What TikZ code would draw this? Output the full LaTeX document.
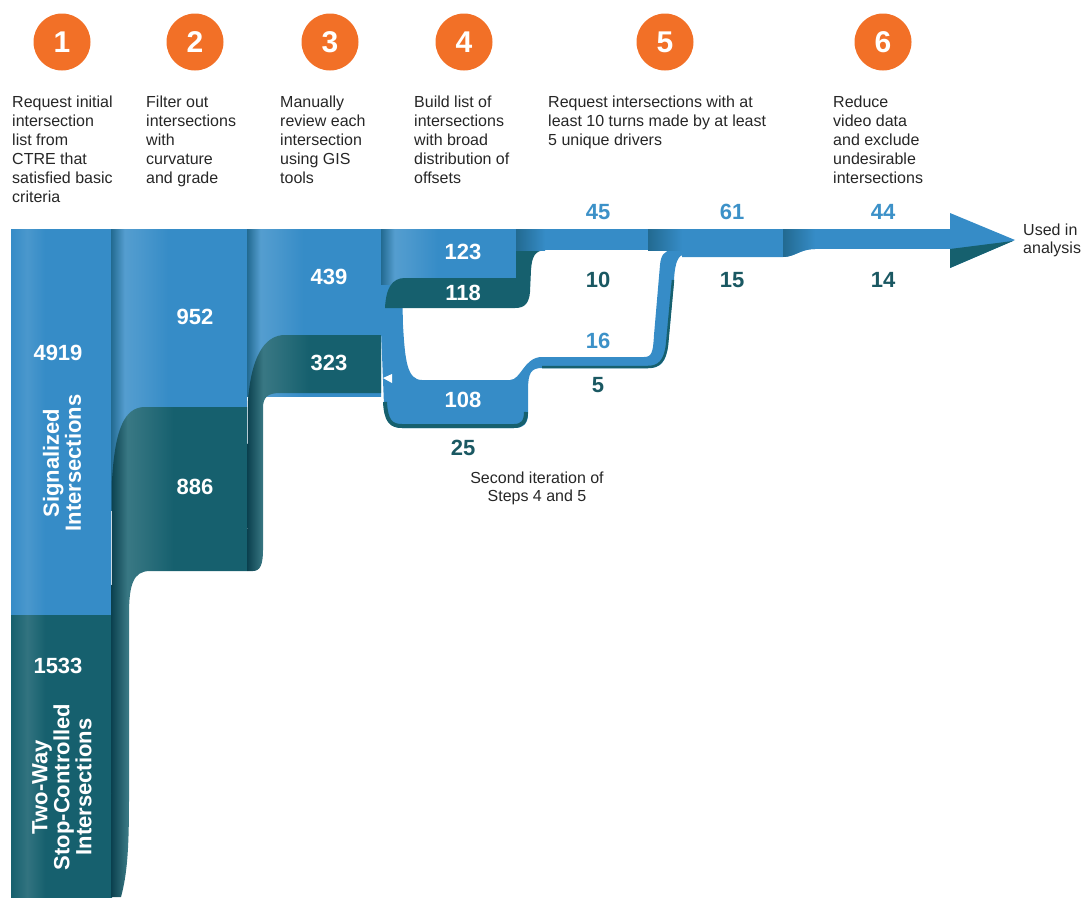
\documentclass[tikz,border=0pt]{standalone}
\usepackage{fontspec}
\setmainfont{Liberation Sans}
\definecolor{flowblue}{RGB}{54,140,199}
\definecolor{flowteal}{RGB}{22,96,110}
\definecolor{flowdark}{RGB}{10,64,78}
\definecolor{steporange}{RGB}{242,112,39}
\definecolor{numblue}{RGB}{60,145,200}
\definecolor{numteal}{RGB}{26,88,98}
\pgfdeclarehorizontalshading{bluecol}{100bp}{color(0bp)=(flowblue!55!flowdark); color(25bp)=(flowblue!55!flowdark); color(30bp)=(flowblue!85!white); color(36bp)=(flowblue!90!white); color(46bp)=(flowblue); color(100bp)=(flowblue)}
\pgfdeclarehorizontalshading{bluefirst}{100bp}{color(0bp)=(flowblue); color(25bp)=(flowblue); color(33bp)=(flowblue!90!white); color(42bp)=(flowblue); color(100bp)=(flowblue)}
\pgfdeclarehorizontalshading{tealcol}{100bp}{color(0bp)=(flowdark); color(25bp)=(flowdark); color(31bp)=(flowteal!85!white); color(37bp)=(flowteal!90!white); color(48bp)=(flowteal); color(100bp)=(flowteal)}
\pgfdeclarehorizontalshading{tealfirst}{100bp}{color(0bp)=(flowteal); color(25bp)=(flowteal); color(33bp)=(flowteal!88!white); color(42bp)=(flowteal); color(100bp)=(flowteal)}
\begin{document}
\begin{tikzpicture}[x=1pt,y=-1pt,
    stepnum/.style={circle, fill=steporange, text=white, minimum size=57pt,
        inner sep=0pt, font=\fontsize{30}{30}\selectfont\bfseries},
    steptext/.style={anchor=north west, align=left, inner sep=0pt,
        text=black!85, font=\fontsize{16}{19}\selectfont},
    inlabel/.style={text=white, font=\fontsize{22}{22}\selectfont\bfseries},
    outblue/.style={text=numblue, font=\fontsize{22}{22}\selectfont\bfseries},
    outteal/.style={text=numteal, font=\fontsize{22}{22}\selectfont\bfseries},
    sidelabel/.style={text=white, rotate=90, align=center, inner sep=0pt,
        font=\fontsize{22}{22}\selectfont\bfseries},
    note/.style={inner sep=0pt, text=black!85, font=\fontsize{16}{18}\selectfont}]
    \useasboundingbox (0,0) rectangle (1086,897);

    % steps
    \node[stepnum] (s1) at (62,42) {1};
    \node[stepnum] (s2) at (195,42) {2};
    \node[stepnum] (s3) at (330,42) {3};
    \node[stepnum] (s4) at (464,42) {4};
    \node[stepnum] (s5) at (665,42) {5};
    \node[stepnum] (s6) at (883,42) {6};
    \node[steptext] (t1) at (12,96) {Request initial\\intersection\\list from\\CTRE that\\satisfied basic\\criteria};
    \node[steptext] (t2) at (146,96) {Filter out\\intersections\\with\\curvature\\and grade};
    \node[steptext] (t3) at (280,96) {Manually\\review each\\intersection\\using GIS\\tools};
    \node[steptext] (t4) at (414,96) {Build list of\\intersections\\with broad\\distribution of\\offsets};
    \node[steptext] (t5) at (548,96) {Request intersections with at\\least 10 turns made by at least\\5 unique drivers};
    \node[steptext] (t6) at (833,96) {Reduce\\video data\\and exclude\\undesirable\\intersections};

    % columns
    \shade[shading=bluefirst] (11,229) rectangle (111,615);
    \shade[shading=tealfirst] (11,615) rectangle (112,897);
    \shade[shading=bluecol] (111,229) rectangle (247,510);
    \shade[shading=tealcol] (247,407) -- (145,407) .. controls (124,407) and (115,430) .. (112,480)
        -- (111,897) -- (121,897) .. controls (127,875) and (129,850) .. (129,800)
        -- (129,615) .. controls (129,585) and (133,571) .. (150,571) -- (247,571) -- cycle;
    \shade[shading=bluecol] (247,229) rectangle (381,396);
    \shade[shading=tealcol] (381,335) -- (285,335) .. controls (268,335) and (252,350) .. (248,400)
        -- (247,571) -- (253,571) .. controls (260,571) and (263,565) .. (263,550)
        -- (263,408) .. controls (263,397) and (268,393) .. (280,393) -- (381,393) -- cycle;
    \shade[shading=bluecol] (381,229) rectangle (516,290);

    % second iteration loop
    \fill[flowblue] (381,285) -- (402,285) -- (403,325) .. controls (405,360) and (407,380) .. (422,380)
        -- (510,380) .. controls (521,380) and (524,357) .. (542,357) -- (644,357)
        .. controls (652,357) and (653,352) .. (654,335) -- (660,265)
        .. controls (661,255) and (664,251) .. (672,250) -- (684,250) -- (684,254)
        .. controls (678,256) and (675,262) .. (674,280) -- (668,345)
        .. controls (666,362) and (661,368) .. (648,368) -- (542,368)
        .. controls (531,368) and (528,373) .. (528,390) -- (528,414)
        .. controls (528,424) and (523,428) .. (514,428) -- (402,428)
        .. controls (390,428) and (385,420) .. (384,405) -- (381,330) -- cycle;
    \draw[flowteal, line width=4pt] (385,402) .. controls (386,421) and (391,426) .. (402,426)
        -- (514,426) .. controls (522,426) and (526,422) .. (526,412);
    \draw[flowteal, line width=2.5pt] (542,367) -- (648,367) .. controls (659,367) and (665,361) .. (667,345) -- (673,280);
    \fill[flowteal] (385,308) .. controls (386,288) and (392,278) .. (405,278) -- (516,278)
        -- (516,250) -- (545,250) .. controls (535,251) and (532,256) .. (531,270)
        -- (530,292) .. controls (529,303) and (525,308) .. (515,308) -- cycle;
    \fill[white] (383,378) -- (392,374) -- (392,383) -- cycle;

    % main band
    \fill[flowblue] (516,229) rectangle (648,250);
    \fill[flowblue] (648,229) -- (815,229) -- (815,249) .. controls (800,249) and (795,257) .. (783,257)
        -- (682,257) -- (682,250) -- (648,250) -- cycle;
    \fill[flowblue] (783,229) rectangle (952,249);
    \shade[left color=flowblue!55!flowdark, right color=flowblue] (516,229) rectangle (545,250);
    \shade[left color=flowblue!55!flowdark, right color=flowblue] (648,229) rectangle (682,250);
    \shade[left color=flowblue!55!flowdark, right color=flowblue] (783,229) -- (815,229) -- (815,249)
        .. controls (800,249) and (795,257) .. (783,257) -- cycle;
    \fill[flowblue] (950,213) -- (1015,240) -- (950,268) -- cycle;
    \fill[flowteal] (950,249) -- (1013,241) -- (950,268) -- cycle;

    % counts
    \node[inlabel] (n4919) at (58,353) {4919};
    \node[sidelabel] (sig) at (62,463) {Signalized\\Intersections};
    \node[inlabel] (n1533) at (58,666) {1533};
    \node[sidelabel] (twsc) at (62,787) {Two-Way\\Stop-Controlled\\Intersections};
    \node[inlabel] (n952) at (195,317) {952};
    \node[inlabel] (n886) at (195,487) {886};
    \node[inlabel] (n439) at (329,277) {439};
    \node[inlabel] (n323) at (329,363) {323};
    \node[inlabel] (n123) at (463,252) {123};
    \node[inlabel] (n118) at (463,293) {118};
    \node[inlabel] (n108) at (463,400) {108};
    \node[outteal] (n25) at (463,448) {25};
    \node[outblue] (n45) at (598,212) {45};
    \node[outteal] (n10) at (598,280) {10};
    \node[outblue] (n16) at (598,341) {16};
    \node[outteal] (n5) at (598,385) {5};
    \node[outblue] (n61) at (732,212) {61};
    \node[outteal] (n15) at (732,280) {15};
    \node[outblue] (n44) at (883,212) {44};
    \node[outteal] (n14) at (883,280) {14};
    \node[note, anchor=west, align=left] (used) at (1023,240) {Used in\\analysis};
    \node[note, align=center] (iter) at (537,488) {Second iteration of\\Steps 4 and 5};
\end{tikzpicture}
\end{document}
